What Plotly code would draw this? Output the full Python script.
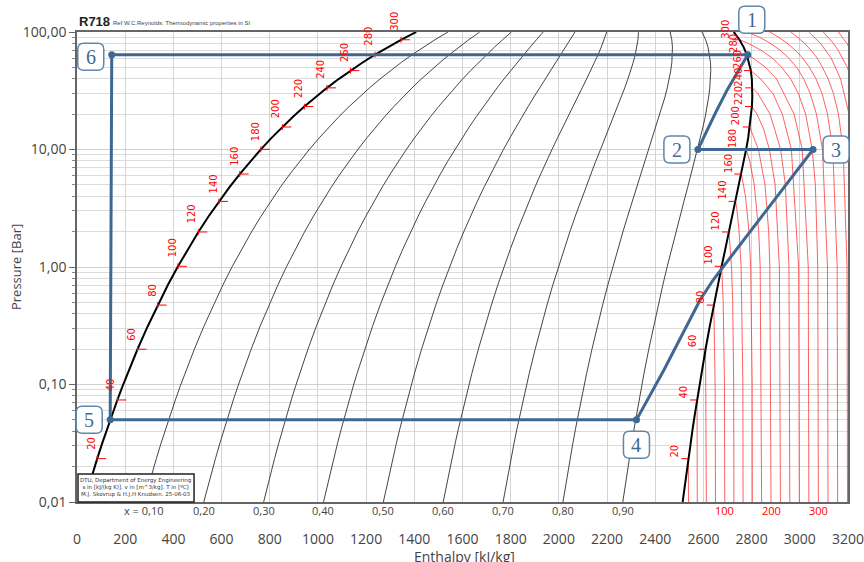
import math
import plotly.graph_objects as go

# ---------------- saturation data (water, R718) ----------------
sat_T = [6.97, 10, 15, 20, 25, 30, 35, 40, 45, 50, 60, 70, 80, 90, 100, 110, 120, 130, 140, 150,
         160, 170, 180, 190, 200, 210, 220, 230, 240, 250, 260, 270, 280, 290, 300, 310, 311]
sat_P = [0.0100, 0.01228, 0.01706, 0.02339, 0.03170, 0.04247, 0.05629, 0.07385, 0.09595, 0.1235,
         0.1995, 0.3120, 0.4741, 0.7018, 1.0142, 1.4338, 1.9867, 2.7028, 3.6154, 4.7616,
         6.1823, 7.9219, 10.028, 12.552, 15.549, 19.077, 23.196, 27.971, 33.469, 39.762,
         46.923, 55.030, 64.166, 74.418, 85.879, 98.651, 100.0]
sat_hf = [29.3, 42.0, 63.0, 83.9, 104.8, 125.7, 146.6, 167.5, 188.4, 209.3, 251.2, 293.1, 335.0,
          377.0, 419.2, 461.4, 503.8, 546.4, 589.2, 632.2, 675.5, 719.1, 763.1, 807.4, 852.3,
          897.6, 943.6, 990.2, 1037.6, 1085.8, 1135.0, 1185.3, 1236.9, 1290.0, 1344.8, 1402.2, 1407.9]
sat_hg = [2513.7, 2519.2, 2528.3, 2537.4, 2546.5, 2555.6, 2564.6, 2573.5, 2582.4, 2591.3, 2608.8,
          2626.1, 2643.0, 2659.6, 2675.6, 2691.1, 2706.0, 2720.1, 2733.5, 2745.9, 2757.4, 2767.1,
          2777.2, 2785.8, 2792.0, 2797.7, 2801.1, 2802.9, 2803.0, 2800.9, 2796.6, 2789.7, 2779.9,
          2766.7, 2749.6, 2727.9, 2725.5]

# quality lines
qualities = [0.1, 0.2, 0.3, 0.4, 0.5, 0.6, 0.7, 0.8, 0.9]
quality_labels = ["x = 0,10", "0,20", "0,30", "0,40", "0,50", "0,60", "0,70", "0,80", "0,90"]

# isotherms in the vapour region (T in C, P in bar, h in kJ/kg)
iso_T = [20, 40, 60, 80, 100, 120, 140, 160, 180, 200, 220, 240, 260, 280, 300, 320, 340, 360, 380, 400, 420]
iso_P = [
    [0.01, 0.02339],
    [0.01, 0.07385],
    [0.01, 0.1, 0.1995],
    [0.01, 0.1, 0.4741],
    [0.01, 0.1, 0.5, 1.0142],
    [0.01, 0.1, 0.5, 1, 1.9867],
    [0.01, 0.1, 1, 2, 3, 3.6154],
    [0.01, 0.1, 1, 2, 4, 5, 6.1823],
    [0.01, 1, 2, 5, 8, 10.028],
    [0.01, 1, 2, 5, 10, 15.549],
    [0.01, 1, 5, 10, 15, 20, 23.196],
    [0.01, 1, 5, 10, 20, 30, 33.469],
    [0.01, 1, 10, 20, 30, 40, 46.923],
    [0.01, 1, 10, 20, 40, 50, 60, 64.166],
    [0.01, 1, 5, 10, 20, 30, 40, 50, 60, 70, 80, 85.879],
    [0.01, 1, 10, 20, 30, 40, 50, 60, 70, 80, 90, 100],
    [0.01, 1, 10, 20, 30, 40, 50, 60, 70, 80, 90, 100],
    [0.01, 1, 10, 20, 30, 40, 50, 60, 70, 80, 90, 100],
    [0.01, 1, 10, 20, 40, 60, 80, 100],
    [0.01, 1, 10, 20, 30, 40, 50, 60, 70, 80, 90, 100],
    [0.01, 10, 20, 40, 60, 80, 100],
]
iso_h = [
    [2538.0, 2537.4],
    [2574.4, 2573.5],
    [2612.0, 2610.5, 2608.8],
    [2650.0, 2648.5, 2643.0],
    [2688.4, 2687.3, 2682.0, 2675.6],
    [2726.5, 2725.5, 2721.5, 2716.5, 2706.0],
    [2764.5, 2763.7, 2756.4, 2748.0, 2739.5, 2733.5],
    [2803.0, 2802.3, 2796.0, 2789.0, 2774.5, 2767.0, 2757.4],
    [2841.5, 2835.5, 2829.5, 2811.0, 2792.0, 2777.2],
    [2880.5, 2875.5, 2870.7, 2855.8, 2828.3, 2792.0],
    [2919.5, 2915.2, 2897.5, 2874.0, 2849.5, 2822.0, 2801.1],
    [2958.5, 2955.0, 2940.0, 2920.5, 2876.5, 2826.0, 2803.0],
    [2998.0, 2995.0, 2965.0, 2927.5, 2888.0, 2837.0, 2796.6],
    [3037.5, 3035.0, 3010.0, 2976.5, 2903.0, 2858.0, 2806.0, 2779.9],
    [3077.0, 3074.5, 3064.6, 3051.6, 3024.2, 2994.0, 2961.7, 2925.0, 2885.6, 2839.0, 2786.5, 2749.6],
    [3117.0, 3114.8, 3094.2, 3069.0, 3043.0, 3016.0, 2987.0, 2954.0, 2918.0, 2878.0, 2834.0, 2781.0],
    [3157.0, 3155.0, 3137.0, 3115.0, 3092.0, 3067.0, 3040.0, 3012.0, 2981.0, 2948.0, 2913.0, 2876.0],
    [3198.0, 3196.0, 3180.0, 3160.5, 3139.5, 3117.5, 3094.0, 3072.0, 3046.0, 3020.0, 2991.0, 2962.0],
    [3238.5, 3236.8, 3222.5, 3204.5, 3169.0, 3130.0, 3086.0, 3037.0],
    [3280.0, 3278.5, 3264.5, 3248.4, 3231.5, 3214.5, 3197.0, 3178.3, 3159.0, 3139.4, 3119.0, 3097.5],
    [3321.0, 3307.5, 3292.0, 3263.5, 3230.0, 3195.0, 3160.0],
]
bottom_T_labels = [100, 200, 300]

# temperatures marked on the saturation lines
sat_label_T = [20, 40, 60, 80, 100, 120, 140, 160, 180, 200, 220, 240, 260, 280, 300]

# cycle
cycle_h = [137.8, 144.2, 2784, 2739, 2698, 2656, 2615, 2577, 3055, 2936, 2853, 2767, 2704,
           2640, 2586, 2543, 2436, 2322, 137.8]
cycle_P = [0.05, 64, 64, 44.8, 32, 21.7, 14.7, 10, 10, 4.8, 2.88, 1.70, 1.15,
           0.775, 0.524, 0.354, 0.133, 0.05, 0.05]
point_names = ["1", "2", "3", "4", "5", "6"]
point_h = [2784, 2577, 3055, 2322, 137.8, 144.2]
point_P = [64, 10, 10, 0.05, 0.05, 64]
point_label_shift = [(4, 35), (-21, 0), (23, 0), (0, -25), (-21, 0), (-21, -2)]

x_tickvals = list(range(0, 3201, 200))
y_tickvals = [0.01, 0.1, 1, 10, 100]
y_ticktext = ["0,01", "0,10", "1,00", "10,00", "100,00"]
y_minor = [k * 10.0 ** e for e in range(-2, 2) for k in range(2, 10)]

X_MAX = 3200.0
BLUE = "#3e6891"
RED = "red"

fig = go.Figure()

# quality lines
for q in qualities:
    hq = [hf + q * (hg - hf) for hf, hg in zip(sat_hf, sat_hg)]
    fig.add_trace(go.Scatter(x=hq, y=sat_P, mode="lines",
                             line=dict(color="#303030", width=0.9),
                             hoverinfo="skip", showlegend=False))

# isotherms
for T, Ps, hs in zip(iso_T, iso_P, iso_h):
    fig.add_trace(go.Scatter(x=hs, y=Ps, mode="lines",
                             line=dict(color="rgba(255,30,30,0.7)", width=1),
                             hoverinfo="skip", showlegend=False))

# saturation lines
fig.add_trace(go.Scatter(x=sat_hf, y=sat_P, mode="lines", line=dict(color="black", width=2),
                         hoverinfo="skip", showlegend=False))
fig.add_trace(go.Scatter(x=sat_hg, y=sat_P, mode="lines", line=dict(color="black", width=2),
                         hoverinfo="skip", showlegend=False))

# temperature ticks on saturation lines
tx, ty = [], []
annotations = []
for T in sat_label_T:
    i = sat_T.index(T)
    P, hf, hg = sat_P[i], sat_hf[i], sat_hg[i]
    tx += [hf, hf + 37, None, hf, hf, None]
    ty += [P, P, None, P * 10 ** -0.025, P * 10 ** 0.025, None]
    tx += [hg - 29, hg, None]
    ty += [P, P, None]
    n = len(str(T))
    annotations.append(dict(x=hf, y=math.log10(P), xref="x", yref="y", text=str(T),
                            textangle=-90, showarrow=False, xshift=-6, yshift=9 + 3 * n,
                            xanchor="center", yanchor="middle",
                            font=dict(color=RED, size=10, family="DejaVu Sans")))
    annotations.append(dict(x=hg, y=math.log10(P), xref="x", yref="y", text=str(T),
                            textangle=-90, showarrow=False, xshift=-13.5, yshift=2 + 3 * n,
                            xanchor="center", yanchor="middle",
                            font=dict(color=RED, size=10, family="DejaVu Sans")))
fig.add_trace(go.Scatter(x=tx, y=ty, mode="lines", line=dict(color=RED, width=1),
                         hoverinfo="skip", showlegend=False))

# cycle
fig.add_trace(go.Scatter(x=cycle_h, y=cycle_P, mode="lines", line=dict(color=BLUE, width=3),
                         hoverinfo="skip", showlegend=False))
fig.add_trace(go.Scatter(x=point_h, y=point_P, mode="markers",
                         marker=dict(color=BLUE, size=7), hoverinfo="skip", showlegend=False))

# point label boxes
shapes = []
w, hh, r = 13, 13.5, 6
for name, h, P, (dx, dy) in zip(point_names, point_h, point_P, point_label_shift):
    xa = h / X_MAX
    ya = (math.log10(P) + 2) / 4
    x0, x1, y0, y1 = dx - w, dx + w, dy - hh, dy + hh
    path = (f"M {x0 + r},{y0} L {x1 - r},{y0} Q {x1},{y0} {x1},{y0 + r} "
            f"L {x1},{y1 - r} Q {x1},{y1} {x1 - r},{y1} L {x0 + r},{y1} "
            f"Q {x0},{y1} {x0},{y1 - r} L {x0},{y0 + r} Q {x0},{y0} {x0 + r},{y0} Z")
    shapes.append(dict(type="path", xref="paper", yref="paper", xsizemode="pixel",
                       ysizemode="pixel", xanchor=xa, yanchor=ya, path=path,
                       line=dict(color="#5f86ab", width=1.5), fillcolor="white", layer="above"))
    annotations.append(dict(x=xa, y=ya, xref="paper", yref="paper", text=name, showarrow=False,
                            xshift=dx, yshift=dy, xanchor="center", yanchor="middle",
                            font=dict(family="Liberation Serif", size=20, color="#3f6a93")))

# quality labels along bottom
for q, lab in zip(qualities, quality_labels):
    hq = sat_hf[0] + q * (sat_hg[0] - sat_hf[0])
    annotations.append(dict(x=hq, y=-0.019, xref="x", yref="paper", text=lab, showarrow=False,
                            xanchor="center", yanchor="middle",
                            font=dict(size=11, color="#444", family="Open Sans")))

# temperature labels along bottom
for T in bottom_T_labels:
    i = iso_T.index(T)
    annotations.append(dict(x=iso_h[i][0], y=-0.019, xref="x", yref="paper", text=str(T),
                            showarrow=False, xanchor="center", yanchor="middle",
                            font=dict(size=11, color=RED, family="Open Sans")))

# info box
shapes.append(dict(type="rect", xref="paper", yref="paper", x0=0.0013, x1=0.1518, y0=0.0,
                   y1=0.0596, line=dict(color="#222", width=1.5), fillcolor="white", layer="above"))
annotations.append(dict(x=0.0765, y=0.0298, xref="paper", yref="paper", showarrow=False,
                        xanchor="center", yanchor="middle",
                        text="DTU, Department of Energy Engineering<br>"
                             "s in [kJ/(kg K)]. v in [m^3/kg]. T in [ºC]<br>"
                             "M.J. Skovrup & H.J.H Knudsen. 25-06-03",
                        font=dict(size=5.5, color="#333", family="DejaVu Sans")))

# title texts
annotations.append(dict(x=0.0, y=1.0213, xref="paper", yref="paper", text="<b>R718</b>",
                        showarrow=False, xanchor="left", yanchor="middle",
                        font=dict(size=13, color="#222", family="Liberation Sans")))
annotations.append(dict(x=0.0435, y=1.019, xref="paper", yref="paper",
                        text="Ref W.C.Reynolds: Thermodynamic properties in SI",
                        showarrow=False, xanchor="left", yanchor="middle",
                        font=dict(size=6, color="#444", family="Liberation Sans")))

# axis titles
annotations.append(dict(x=-0.0791, y=0.5, xref="paper", yref="paper", text="Pressure [Bar]",
                        textangle=-90, showarrow=False, xanchor="center", yanchor="middle",
                        font=dict(size=13, color="#444", family="Open Sans")))
annotations.append(dict(x=0.503, y=-0.115, xref="paper", yref="paper", text="Enthalpy [kJ/kg]",
                        showarrow=False, xanchor="center", yanchor="middle",
                        font=dict(size=14, color="#444", family="Open Sans")))

fig.update_layout(
    width=864, height=562,
    margin=dict(l=77, r=16, t=32, b=60, autoexpand=False),
    paper_bgcolor="white", plot_bgcolor="white",
    showlegend=False,
    shapes=shapes, annotations=annotations,
    xaxis=dict(range=[0, X_MAX], tickvals=x_tickvals, ticks="", showgrid=True,
               gridcolor="#d4d4d4", gridwidth=1, zeroline=False, showline=True, mirror=True,
               linecolor="#666", linewidth=1.5, ticklabelstandoff=23,
               ticklabeloverflow="allow", automargin=False,
               tickfont=dict(size=14, color="#444", family="Open Sans")),
    yaxis=dict(type="log", range=[-2, 2], tickvals=y_tickvals, ticktext=y_ticktext,
               ticks="outside", ticklen=6, tickcolor="#666", showgrid=True,
               gridcolor="#cfcfcf", zeroline=False, showline=True, mirror=True,
               linecolor="#666", linewidth=1.5, automargin=False,
               tickfont=dict(size=14, color="#444", family="Open Sans"),
               minor=dict(tickvals=y_minor, ticks="outside", ticklen=3, tickcolor="#888",
                          showgrid=True, gridcolor="#dcdcdc", gridwidth=1)),
)

# remove the default 8px page margin so the 864x562 figure fills the window exactly
fig.write_html("out.html",
               config={"displayModeBar": False},
               post_script="document.body.style.margin='0px';"
                           "document.body.style.overflow='hidden';")
